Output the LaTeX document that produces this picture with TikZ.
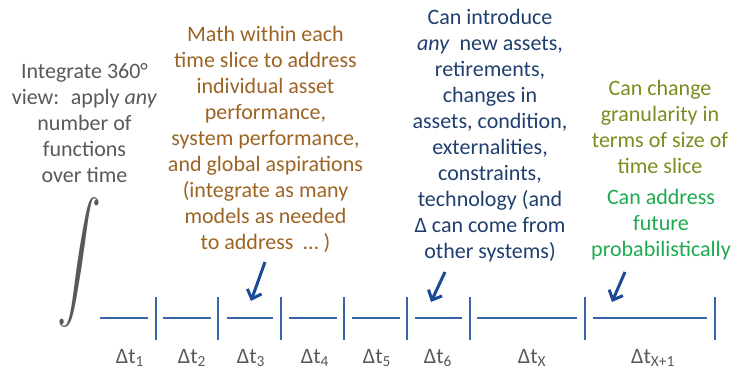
\documentclass[tikz,border=0pt]{standalone}
\usepackage{fontspec}
\usepackage{graphicx}
\setmainfont{Carlito}
\usetikzlibrary{arrows.meta}
\definecolor{cgray}{HTML}{595959}
\definecolor{cbrown}{HTML}{9C6424}
\definecolor{cnavy}{HTML}{1F3F6E}
\definecolor{colive}{HTML}{7A8C1E}
\definecolor{cgreen}{HTML}{1DAA4F}
\definecolor{tline}{HTML}{3565A8}
\definecolor{arrblue}{HTML}{1C4A96}
\begin{document}
\begin{tikzpicture}[x=1pt,y=-1pt,
  txt/.style={align=center,inner sep=0pt,anchor=north,font=\fontsize{22}{26}\selectfont},
  seg/.style={draw=tline,line width=2pt},
  tickmark/.style={draw=tline,line width=2pt},
  lab/.style={inner sep=0pt,text=cgray,font=\fontsize{22}{26}\selectfont},
  arr/.style={draw=arrblue,line width=3pt,-{Straight Barb[length=8pt,width=15pt,line width=3pt]}}]
\useasboundingbox (0,0) rectangle (732,371);

% texts
\node[txt,text=cgray] (left) at (84.5,63) {Integrate 360°\\view:~ apply \textit{any}\\number of\\functions\\over time};
\node[txt,text=cbrown] (brown) at (265.5,26) {Math within each\\time slice to address\\individual asset\\performance,\\system performance,\\and global aspirations\\(integrate as many\\models as needed\\to address~ … )};
\node[txt,text=cnavy] (blue) at (490,9) {Can introduce\\\textit{any}~ new assets,\\retirements,\\changes in\\assets, condition,\\externalities,\\constraints,\\technology (and\\Δ can come from\\other systems)};
\node[txt,text=colive] (olive) at (660,80) {Can change\\granularity in\\terms of size of\\time slice};
\node[txt,text=cgreen] (green) at (661,189) {Can address\\future\\probabilistically};

% integral
\node[inner sep=0pt,text=cgray] (integral) at (79,263) {\resizebox*{44pt}{130pt}{$\displaystyle\int$}};

% timeline
\foreach \a/\b in {100/148,163/211,227/273,289/337,352/400,415/462,477/577,593/707}
  \draw[seg] (\a,318) -- (\b,318);
\foreach \x in {156,218,281,344,407,470,585,715}
  \draw[tickmark] (\x,297) -- (\x,340);

% labels
\node[lab] (l1) at (130,358) {Δt\textsubscript{1}};
\node[lab] (l2) at (192,358) {Δt\textsubscript{2}};
\node[lab] (l3) at (251,358) {Δt\textsubscript{3}};
\node[lab] (l4) at (315,358) {Δt\textsubscript{4}};
\node[lab] (l5) at (377,358) {Δt\textsubscript{5}};
\node[lab] (l6) at (438,358) {Δt\textsubscript{6}};
\node[lab] (lx) at (532,358) {Δt\textsubscript{X}};
\node[lab] (lx1) at (653,358) {Δt\textsubscript{X+1}};

% arrows
\coordinate (a1s) at (265,262);
\coordinate (a1e) at (251,301);
\coordinate (a2s) at (445,272);
\coordinate (a2e) at (431,302);
\coordinate (a3s) at (625,272);
\coordinate (a3e) at (612,302);
\draw[arr] (a1s) -- (a1e);
\draw[arr] (a2s) -- (a2e);
\draw[arr] (a3s) -- (a3e);
\end{tikzpicture}
\end{document}
